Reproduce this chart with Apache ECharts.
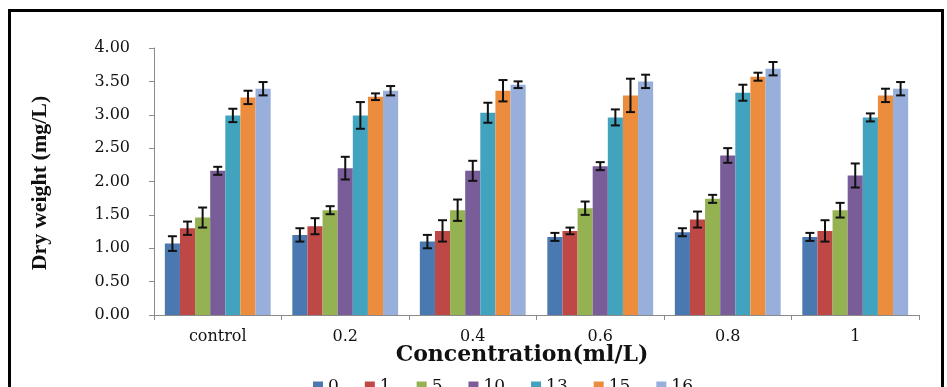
<!DOCTYPE html>
<html>
<head>
<meta charset="utf-8">
<script src="https://cdn.jsdelivr.net/npm/echarts@6/dist/echarts.min.js"></script>
<style>html,body{margin:0;padding:0;background:#fff;}#c{width:947px;height:387px;}</style>
</head>
<body>
<div id="c"></div>
<script>
// ---- data ----
const categories = ['control', '0.2', '0.4', '0.6', '0.8', '1'];
const seriesNames = ['0', '1', '5', '10', '13', '15', '16'];
const yTicks = [0, 0.5, 1, 1.5, 2, 2.5, 3, 3.5, 4];

const mean0  = [1.07, 1.20, 1.10, 1.17, 1.24, 1.17];
const mean1  = [1.30, 1.33, 1.26, 1.26, 1.43, 1.26];
const mean5  = [1.46, 1.57, 1.57, 1.60, 1.74, 1.57];
const mean10 = [2.16, 2.20, 2.16, 2.23, 2.39, 2.09];
const mean13 = [2.99, 2.99, 3.03, 2.96, 3.33, 2.96];
const mean15 = [3.26, 3.27, 3.36, 3.29, 3.57, 3.29];
const mean16 = [3.39, 3.36, 3.45, 3.50, 3.69, 3.39];

const err0  = [0.11, 0.10, 0.10, 0.06, 0.06, 0.06];
const err1  = [0.10, 0.12, 0.16, 0.05, 0.12, 0.16];
const err5  = [0.15, 0.06, 0.16, 0.10, 0.06, 0.11];
const err10 = [0.06, 0.17, 0.15, 0.06, 0.11, 0.18];
const err13 = [0.10, 0.20, 0.15, 0.12, 0.12, 0.06];
const err15 = [0.10, 0.05, 0.16, 0.25, 0.06, 0.10];
const err16 = [0.10, 0.07, 0.05, 0.10, 0.10, 0.10];

const means = [mean0, mean1, mean5, mean10, mean13, mean15, mean16];
const errs = [err0, err1, err5, err10, err13, err15, err16];
const colors = ['#4A78B0', '#BD4845', '#95B252', '#785D98', '#42A3BE', '#EC8C3D', '#97AFDA'];

const CAT_GAP = 0.17;
const N = seriesNames.length;

const series = [];
seriesNames.forEach((name, i) => {
  series.push({
    name: name,
    type: 'bar',
    data: means[i],
    barGap: '0%',
    barCategoryGap: (CAT_GAP * 100) + '%',
    itemStyle: { color: colors[i] },
    z: 2
  });
});
seriesNames.forEach((name, i) => {
  series.push({
    type: 'custom',
    name: name,
    data: categories.map((c, k) => [k, means[i][k] - errs[i][k], means[i][k] + errs[i][k]]),
    z: 5,
    renderItem: function (params, api) {
      const k = api.value(0);
      const lo = api.coord([k, api.value(1)]);
      const hi = api.coord([k, api.value(2)]);
      const catW = api.size([1, 0])[0];
      const bw = catW * (1 - CAT_GAP) / N;
      const x = lo[0] + (i - (N - 1) / 2) * bw;
      const cap = 4.5;
      const st = { stroke: '#111', lineWidth: 2 };
      return {
        type: 'group',
        children: [
          { type: 'line', shape: { x1: x, y1: lo[1], x2: x, y2: hi[1] }, style: st },
          { type: 'line', shape: { x1: x - cap, y1: lo[1], x2: x + cap, y2: lo[1] }, style: st },
          { type: 'line', shape: { x1: x - cap, y1: hi[1], x2: x + cap, y2: hi[1] }, style: st }
        ]
      };
    },
    encode: { x: 0, y: [1, 2] },
    silent: true
  });
});

const chart = echarts.init(document.getElementById('c'), null, { renderer: 'canvas' });
chart.setOption({
  animation: false,
  backgroundColor: '#fff',
  grid: { left: 154, right: 28, top: 48, bottom: 72 },
  legend: {
    data: seriesNames,
    left: 308,
    top: 373,
    itemWidth: 10,
    itemHeight: 10,
    itemGap: 26,
    icon: 'rect',
    textStyle: { fontFamily: 'DejaVu Serif', fontSize: 17, color: '#111' }
  },
  xAxis: {
    type: 'category',
    data: categories,
    axisLine: { lineStyle: { color: '#8a8a8a', width: 1 } },
    axisTick: { show: true, length: 5, lineStyle: { color: '#8a8a8a' } },
    axisLabel: { fontFamily: 'DejaVu Serif', fontSize: 16, color: '#111', margin: 14 }
  },
  yAxis: {
    type: 'value',
    min: yTicks[0],
    max: yTicks[yTicks.length - 1],
    interval: 0.5,
    splitLine: { show: false },
    axisLine: { show: true, lineStyle: { color: '#8a8a8a', width: 1 } },
    axisTick: { show: true, length: 5, lineStyle: { color: '#8a8a8a' } },
    axisLabel: {
      fontFamily: 'DejaVu Serif', fontSize: 16, color: '#111', margin: 24,
      formatter: v => v.toFixed(2)
    }
  },
  graphic: [
    { type: 'rect', shape: { x: 9.5, y: 10.5, width: 933, height: 400 },
      style: { fill: null, stroke: '#000', lineWidth: 3 }, silent: true },
    { type: 'text', x: 522, y: 355,
      style: { text: 'Concentration(ml/L)', font: 'bold 22px "DejaVu Serif"', fill: '#111',
               textAlign: 'center', textVerticalAlign: 'middle' } },
    { type: 'text', x: 40, y: 183, rotation: Math.PI / 2,
      style: { text: 'Dry weight (mg/L)', font: 'bold 22px "Liberation Serif"', fill: '#111',
               textAlign: 'center', textVerticalAlign: 'middle' } }
  ],
  series: series
});
</script>
</body>
</html>
